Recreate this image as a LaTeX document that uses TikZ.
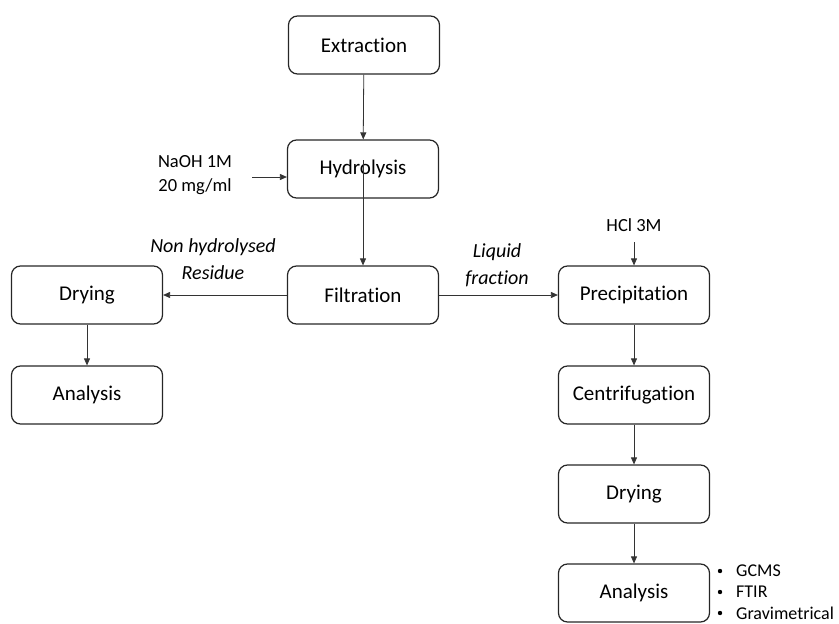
\documentclass[tikz,border=0pt]{standalone}
\usepackage{fontspec}
\setmainfont{Carlito}[Ligatures=NoCommon]
\usetikzlibrary{arrows.meta}
\begin{document}
\begin{tikzpicture}[x=1pt,y=-1pt,
  stepbox/.style={draw=black!85, line width=1.2pt, rounded corners=9pt,
    minimum width=151pt, minimum height=58pt, font=\fontsize{21}{24}\selectfont, inner sep=0pt},
  flow/.style={draw=black!80, line width=0.8pt, -{Triangle[length=7pt,width=6pt]}},
  note/.style={font=\fontsize{18.5}{24}\selectfont, align=center, inner sep=0pt},
  tech/.style={font=\fontsize{18}{22}\selectfont, anchor=west, inner sep=0pt},
  lbl/.style={font=\itshape\fontsize{20}{27}\selectfont, align=center, inner sep=0pt}]
\useasboundingbox (0,0) rectangle (839,624);

% main process chain
\node[stepbox] (extr) at (364,45) {Extraction};
\node[stepbox] (hydr) at (363,169) {Hydrolysis};
\node[stepbox] (filt) at (363,295) {Filtration};

% left branch: solid residue
\node[stepbox] (dryL) at (87,295) {Drying};
\node[stepbox] (anaL) at (87,395) {Analysis};

% right branch: liquid fraction
\node[stepbox] (prec) at (634,295) {Precipitation};
\node[stepbox] (cent) at (634,395) {Centrifugation};
\node[stepbox] (dryR) at (634,494) {Drying};
\node[stepbox] (anaR) at (634,593) {Analysis};

% reagents
\node[note] (naoh) at (195,175) {NaOH 1M\\20 mg/ml};
\node[note] (hcl) at (634,225) {HCl 3M};
\coordinate (naohEnd) at (252,177);
\coordinate (hclEnd) at (634,242);

% branch labels
\node[lbl] (resid) at (213,259) {Non hydrolysed\\Residue};
\node[lbl] (liq) at (497,265) {Liquid\\fraction};

% analysis techniques
\node[tech] (gcms) at (736,571) {GCMS};
\node[tech] (ftir) at (736,592) {FTIR};
\node[tech] (grav) at (736,613) {Gravimetrical};
\foreach \n in {gcms,ftir,grav}
  \fill (\n.west) ++(-16pt,0) circle (2.2pt);

% connectors
\draw[flow] (extr) -- (hydr);
\draw[flow] ([yshift=9pt]hydr.center) -- (filt);
\draw[flow] (naohEnd) -- (hydr.west |- naohEnd);
\draw[flow] (filt) -- (dryL);
\draw[flow] (filt) -- (prec);
\draw[flow] (dryL) -- (anaL);
\draw[flow] (hclEnd) -- (prec);
\draw[flow] (prec) -- (cent);
\draw[flow] (cent) -- (dryR);
\draw[flow] (dryR) -- (anaR);
\end{tikzpicture}
\end{document}
